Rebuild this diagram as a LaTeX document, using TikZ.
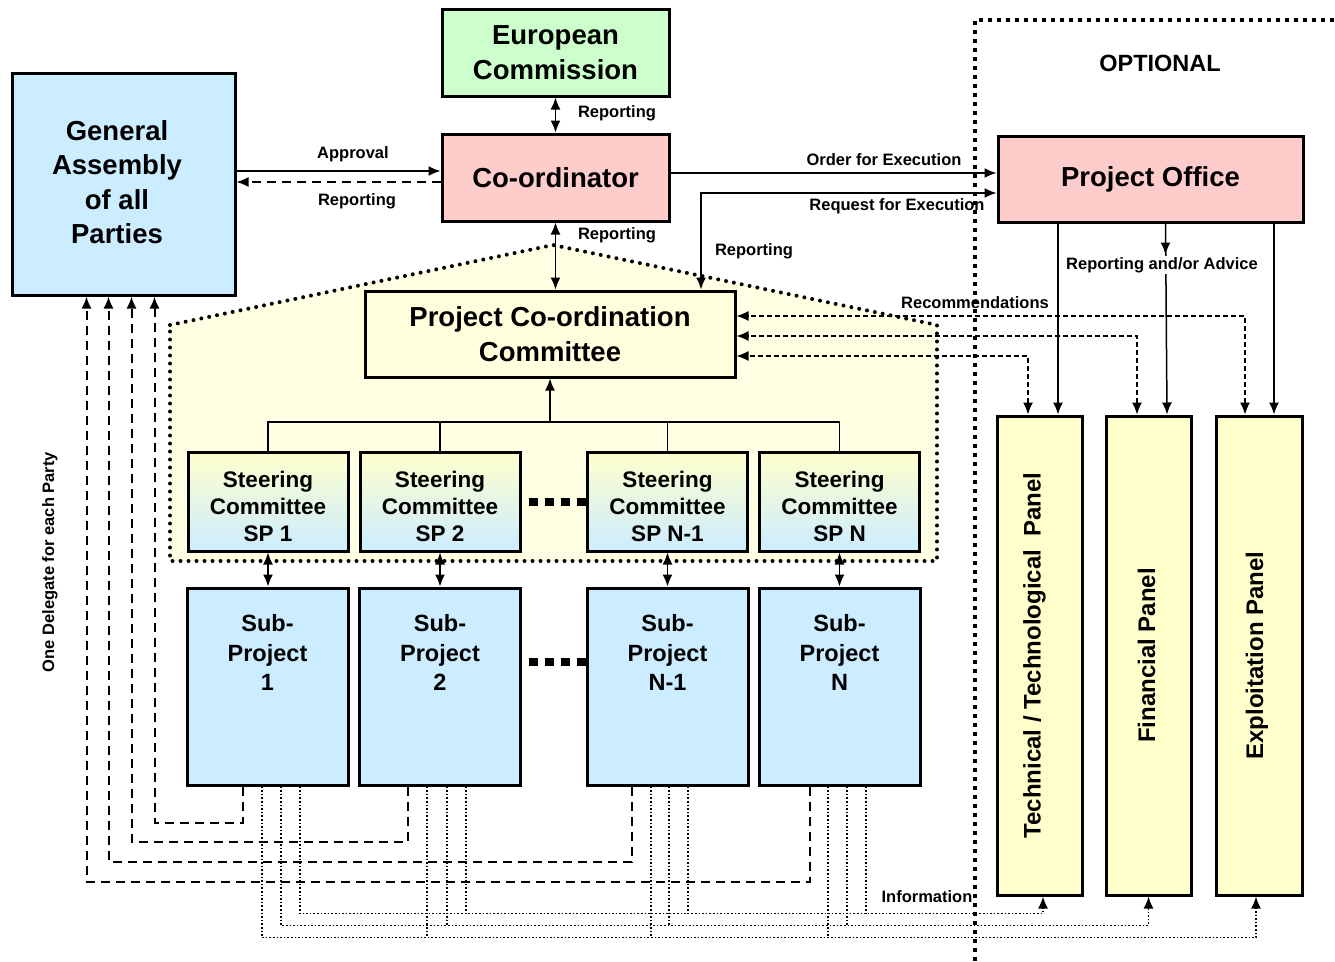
\documentclass[tikz,border=0pt]{standalone}
\usepackage{fontspec}
\setmainfont{Liberation Sans}
\usepackage{xcolor}
\usetikzlibrary{arrows.meta}
\definecolor{ecgreen}{HTML}{CCFFCC}
\definecolor{gablue}{HTML}{CCECFF}
\definecolor{copink}{HTML}{FFCCCC}
\definecolor{pccyellow}{HTML}{FFFFDD}
\definecolor{panelyellow}{HTML}{FFFFCC}
\definecolor{areayellow}{HTML}{FFFFE3}
\definecolor{scyellow}{HTML}{FFFFCC}

\begin{document}
\begin{tikzpicture}[x=1pt,y=-1pt,
  >={Latex[length=12pt,width=10pt]},
  box/.style={draw,line width=3pt,inner sep=0pt,align=center},
  bigtxt/.style={font=\fontsize{27.5}{34.5}\selectfont\bfseries,align=center},
  sctxt/.style={font=\fontsize{22.5}{27}\selectfont\bfseries,align=center},
  sptxt/.style={font=\fontsize{23.5}{29.5}\selectfont\bfseries,align=center},
  paneltxt/.style={font=\fontsize{24}{28}\selectfont\bfseries,rotate=90},
  lbl/.style={font=\fontsize{16.5}{19}\selectfont\bfseries,inner sep=1pt},
  arr/.style={line width=1.5pt,->},
  darr/.style={line width=1.5pt,<->},
  deleg/.style={line width=2pt,dash pattern=on 9pt off 6pt,->},
  recom/.style={line width=1.3pt,dash pattern=on 5pt off 3pt,<->},
  info/.style={line width=1.6pt,dash pattern=on 1.6pt off 2pt},
  rounddots/.style={line width=4pt,line cap=round,dash pattern=on 0pt off 8pt},
  squaredots/.style={line width=4pt,dash pattern=on 4pt off 5pt},
  bigdots/.style={line width=8pt,dash pattern=on 9pt off 7pt}]
\useasboundingbox (0,0) rectangle (1335,961);

\fill[areayellow] (170,325) -- (553,245) -- (937,325) -- (937,561) -- (170,561) -- cycle;
\draw[rounddots] (170,325) -- (553,245) -- (937,325) -- (937,561) -- (170,561) -- cycle;

\node[box,fill=ecgreen,minimum width=227pt,minimum height=87pt,bigtxt] (ec) at (555.5,52.5) {European\\Commission};
\node[box,fill=gablue,minimum width=223pt,minimum height=222pt] (ga) at (123.5,184) {};
\node[bigtxt] (gat) at (117,182) {General\\Assembly\\of all\\Parties};
\node[box,fill=copink,minimum width=227pt,minimum height=87pt,bigtxt] (co) at (555.5,177.5) {Co-ordinator};
\node[box,fill=copink,minimum width=305pt,minimum height=86pt,bigtxt] (po) at (1150.5,179) {Project Office};
\node[box,fill=pccyellow,minimum width=370pt,minimum height=86pt,bigtxt] (pcc) at (550,334) {Project Co-ordination\\Committee};

\node[box,top color=scyellow,bottom color=gablue,minimum width=160pt,minimum height=99pt] (sc1) at (268,501.5) {};
\node[box,top color=scyellow,bottom color=gablue,minimum width=160pt,minimum height=99pt] (sc2) at (440,501.5) {};
\node[box,top color=scyellow,bottom color=gablue,minimum width=160pt,minimum height=99pt] (sc3) at (667.5,501.5) {};
\node[box,top color=scyellow,bottom color=gablue,minimum width=160pt,minimum height=99pt] (sc4) at (839.5,501.5) {};
\node[sctxt] (sc1t) at ([yshift=-5pt]sc1.center) {Steering\\Committee\\SP 1};
\node[sctxt] (sc2t) at ([yshift=-5pt]sc2.center) {Steering\\Committee\\SP 2};
\node[sctxt] (sc3t) at ([yshift=-5pt]sc3.center) {Steering\\Committee\\SP N-1};
\node[sctxt] (sc4t) at ([yshift=-5pt]sc4.center) {Steering\\Committee\\SP N};

\node[box,fill=gablue,minimum width=161pt,minimum height=197pt] (sp1) at (267.5,686.5) {};
\node[box,fill=gablue,minimum width=161pt,minimum height=197pt] (sp2) at (440,686.5) {};
\node[box,fill=gablue,minimum width=161pt,minimum height=197pt] (sp3) at (667.5,686.5) {};
\node[box,fill=gablue,minimum width=161pt,minimum height=197pt] (sp4) at (839.5,686.5) {};
\node[sptxt] (sp1t) at ([yshift=-66pt]sp1.north) {Sub-\\Project\\1};
\node[sptxt] (sp2t) at ([yshift=-66pt]sp2.north) {Sub-\\Project\\2};
\node[sptxt] (sp3t) at ([yshift=-66pt]sp3.north) {Sub-\\Project\\N-1};
\node[sptxt] (sp4t) at ([yshift=-66pt]sp4.north) {Sub-\\Project\\N};

\node[box,fill=panelyellow,minimum width=85pt,minimum height=479pt] (tp) at (1039.5,655.5) {};
\node[box,fill=panelyellow,minimum width=85pt,minimum height=479pt] (fp) at (1148.5,655.5) {};
\node[box,fill=panelyellow,minimum width=86pt,minimum height=479pt] (ep) at (1259,655.5) {};
\node[paneltxt] (tpt) at ([xshift=-5pt]tp.center) {Technical / Technological\ \ Panel};
\node[paneltxt] (fpt) at ([xshift=-2pt]fp.center) {Financial Panel};
\node[paneltxt] (ept) at ([xshift=-2pt]ep.center) {Exploitation Panel};

\draw[bigdots] ([xshift=7pt]sc2.east) -- (sc3.west);
\draw[bigdots] ([xshift=7pt,yshift=25pt]sp2.east) -- ([yshift=25pt]sp3.west);

\coordinate (bus) at (550,422);
\draw[line width=1.5pt] (sc1.north) |- (bus) -| (sc4.north);
\draw[line width=1.5pt] (sc2.north) -- (sc2.north |- bus);
\draw[line width=1.5pt] (sc3.north) -- (sc3.north |- bus);
\draw[arr] (bus) -- (pcc.south);

\draw[darr] (sc1.south) -- (sc1.south |- sp1.north);
\draw[darr] (sc2.south) -- (sc2.south |- sp2.north);
\draw[darr] (sc3.south) -- (sc3.south |- sp3.north);
\draw[darr] (sc4.south) -- (sc4.south |- sp4.north);

\draw[darr] (ec.south) -- (co.north);
\draw[darr] (co.south) -- (co.south |- pcc.north);
\draw[arr] ([yshift=13pt]ga.east) -- ([yshift=6.5pt]co.west);
\draw[arr,dash pattern=on 9pt off 6pt] ([yshift=-4.5pt]co.west) -- ([yshift=2pt]ga.east);
\draw[arr] ([yshift=4.5pt]co.east) -- ([yshift=6pt]po.west);
\draw[darr] ([xshift=151pt]pcc.north) |- ([yshift=-14pt]po.west);

\draw[arr] ([xshift=-92.5pt]po.south) -- ([xshift=18.5pt]tp.north);
\draw[arr] ([xshift=15pt]po.south) -- ([xshift=18.5pt]fp.north);
\draw[arr] ([xshift=15pt]po.south) -- ++(0,31);
\draw[arr] ([xshift=123.5pt]po.south) -- ([xshift=15pt]ep.north);

\draw[recom] ([xshift=-11.5pt]tp.north) |- ([yshift=-22pt]pcc.east);
\draw[recom] ([xshift=-11.5pt]fp.north) |- ([yshift=-2pt]pcc.east);
\draw[recom] ([xshift=-14pt]ep.north) |- ([yshift=18pt]pcc.east);

\draw[deleg] ([xshift=-24.5pt]sp1.south) -- ++(0,36) -| ([xshift=144pt]ga.south west);
\draw[deleg] ([xshift=-32pt]sp2.south) -- ++(0,55) -| ([xshift=121pt]ga.south west);
\draw[deleg] ([xshift=-35.5pt]sp3.south) -- ++(0,75) -| ([xshift=98pt]ga.south west);
\draw[deleg] ([xshift=-29.5pt]sp4.south) -- ++(0,95) -| ([xshift=76pt]ga.south west);

\draw[info,->] ([xshift=32.5pt]sp1.south) -- ++(0,127) -| ([xshift=3.5pt]tp.south);
\draw[info,->] ([xshift=13.5pt]sp1.south) -- ++(0,139) -| (fp.south);
\draw[info,->] ([xshift=-5.5pt]sp1.south) -- ++(0,151) -| ([xshift=-3pt]ep.south);
\draw[info] ([xshift=26pt]sp2.south) -- ++(0,127);
\draw[info] ([xshift=7pt]sp2.south) -- ++(0,139);
\draw[info] ([xshift=-13pt]sp2.south) -- ++(0,151);
\draw[info] ([xshift=20.5pt]sp3.south) -- ++(0,127);
\draw[info] ([xshift=1.5pt]sp3.south) -- ++(0,139);
\draw[info] ([xshift=-16.5pt]sp3.south) -- ++(0,151);
\draw[info] ([xshift=26.5pt]sp4.south) -- ++(0,127);
\draw[info] ([xshift=7.5pt]sp4.south) -- ++(0,139);
\draw[info] ([xshift=-11.5pt]sp4.south) -- ++(0,151);

\node[lbl] (l1) at (617,113) {Reporting};
\node[lbl] (l2) at (353,154) {Approval};
\node[lbl] (l3) at (357,201) {Reporting};
\node[lbl] (l4) at (617,235) {Reporting};
\node[lbl] (l5) at (884,160) {Order for Execution};
\node[lbl] (l6) at (897,206) {Request for Execution};
\node[lbl] (l7) at (754,251) {Reporting};
\node[lbl,fill=white] (l8) at (1162,265) {Reporting and/or Advice};
\node[lbl] (l9) at (975,303) {Recommendations};
\node[lbl] (l10) at (927,897) {Information};
\node[lbl,rotate=90] (l11) at (50,562) {One Delegate for each Party};
\node[font=\fontsize{23.5}{28}\selectfont\bfseries] (opt) at (1160,63) {OPTIONAL};

\draw[squaredots] (975,961) -- (975,20) -- (1335,20);
\end{tikzpicture}
\end{document}
